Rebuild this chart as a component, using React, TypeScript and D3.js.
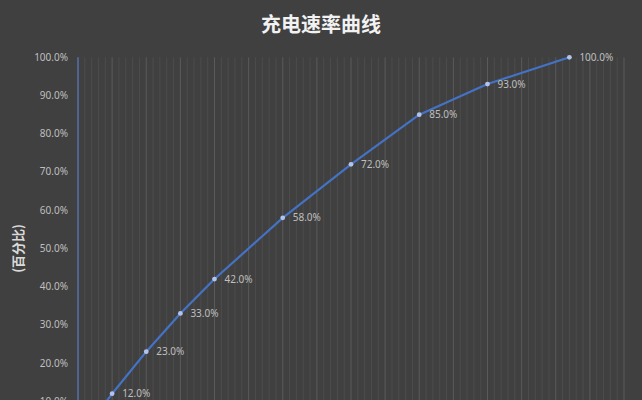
import { useEffect, useRef } from 'react';
import * as d3 from 'd3';

// charge time in minutes vs battery percentage
const minutes = [0, 5, 10, 15, 20, 30, 40, 50, 60, 72];
const percent = [0, 0.12, 0.23, 0.33, 0.42, 0.58, 0.72, 0.85, 0.93, 1.0];
const yTicks = [0, 0.1, 0.2, 0.3, 0.4, 0.5, 0.6, 0.7, 0.8, 0.9, 1.0];
const title = '充电速率曲线';
const yTitle = '(百分比)';

const W = 642;
const H = 400;

export default function App() {
  const ref = useRef<SVGSVGElement>(null);

  useEffect(() => {
    if (!ref.current) return;
    const svg = d3.select(ref.current);
    svg.selectAll('*').remove();

    const font = '"Noto Sans", "Noto Sans CJK SC", sans-serif';

    const x = d3.scaleLinear().domain([0, 80]).range([78, 624]);
    const y = d3.scaleLinear().domain([0, 1]).range([439.6, 57.3]);

    svg.append('rect').attr('width', W).attr('height', H).attr('fill', '#404040');

    // minor vertical grid
    const g = svg.append('g');
    g.selectAll('line.minor')
      .data(d3.range(0, 81, 1).filter((d) => d % 5 !== 0))
      .join('line')
      .attr('class', 'minor')
      .attr('x1', (d) => x(d))
      .attr('x2', (d) => x(d))
      .attr('y1', y(1))
      .attr('y2', y(0))
      .attr('stroke', '#4c4c4c')
      .attr('stroke-width', 1);

    // major vertical grid
    g.selectAll('line.major')
      .data(d3.range(5, 81, 5))
      .join('line')
      .attr('class', 'major')
      .attr('x1', (d) => x(d))
      .attr('x2', (d) => x(d))
      .attr('y1', y(1))
      .attr('y2', y(0))
      .attr('stroke', '#5a5a5a')
      .attr('stroke-width', 1);

    // y axis line
    svg.append('line')
      .attr('x1', x(0))
      .attr('x2', x(0))
      .attr('y1', y(1))
      .attr('y2', y(0))
      .attr('stroke', '#5470a8')
      .attr('stroke-width', 1.5);

    // y tick labels
    svg.append('g')
      .selectAll('text')
      .data(yTicks)
      .join('text')
      .attr('x', 68)
      .attr('y', (d) => y(d))
      .attr('dy', '0.35em')
      .attr('text-anchor', 'end')
      .style('font-family', font)
      .style('font-size', '10px')
      .style('fill', '#bfbfbf')
      .text((d) => d3.format('.1%')(d));

    // title
    svg.append('text')
      .attr('x', 321)
      .attr('y', 25)
      .attr('dy', '0.35em')
      .attr('text-anchor', 'middle')
      .style('font-family', '"Noto Sans CJK SC", sans-serif')
      .style('font-size', '20px')
      .style('font-weight', 'bold')
      .style('fill', '#f2f2f2')
      .text(title);

    // y axis title
    svg.append('text')
      .attr('transform', `translate(18,${(y(0) + y(1)) / 2}) rotate(-90)`)
      .attr('dy', '0.35em')
      .attr('text-anchor', 'middle')
      .style('font-family', '"Noto Sans CJK SC", sans-serif')
      .style('font-size', '13px')
      .style('font-weight', 'bold')
      .style('fill', '#d9d9d9')
      .text(yTitle);

    const data = minutes.map((m, i) => ({ m, p: percent[i] }));

    const line = d3.line<{ m: number; p: number }>()
      .x((d) => x(d.m))
      .y((d) => y(d.p));

    svg.append('path')
      .datum(data)
      .attr('d', line)
      .attr('fill', 'none')
      .attr('stroke', '#4472c4')
      .attr('stroke-width', 2.2)
      .attr('stroke-linejoin', 'round');

    const pts = data.filter((d) => d.m > 0);

    svg.append('g')
      .selectAll('circle')
      .data(pts)
      .join('circle')
      .attr('cx', (d) => x(d.m))
      .attr('cy', (d) => y(d.p))
      .attr('r', 2.4)
      .attr('fill', '#b4c3ea');

    svg.append('g')
      .selectAll('text')
      .data(pts)
      .join('text')
      .attr('x', (d) => x(d.m) + 10)
      .attr('y', (d) => y(d.p))
      .attr('dy', '0.35em')
      .style('font-family', font)
      .style('font-size', '10px')
      .style('fill', '#bfbfbf')
      .text((d) => d3.format('.1%')(d.p));
  }, []);

  return (
    <div style={{ position: 'absolute', left: 0, top: 0, width: W, height: H, overflow: 'hidden' }}>
      <svg ref={ref} width={W} height={H} />
    </div>
  );
}
